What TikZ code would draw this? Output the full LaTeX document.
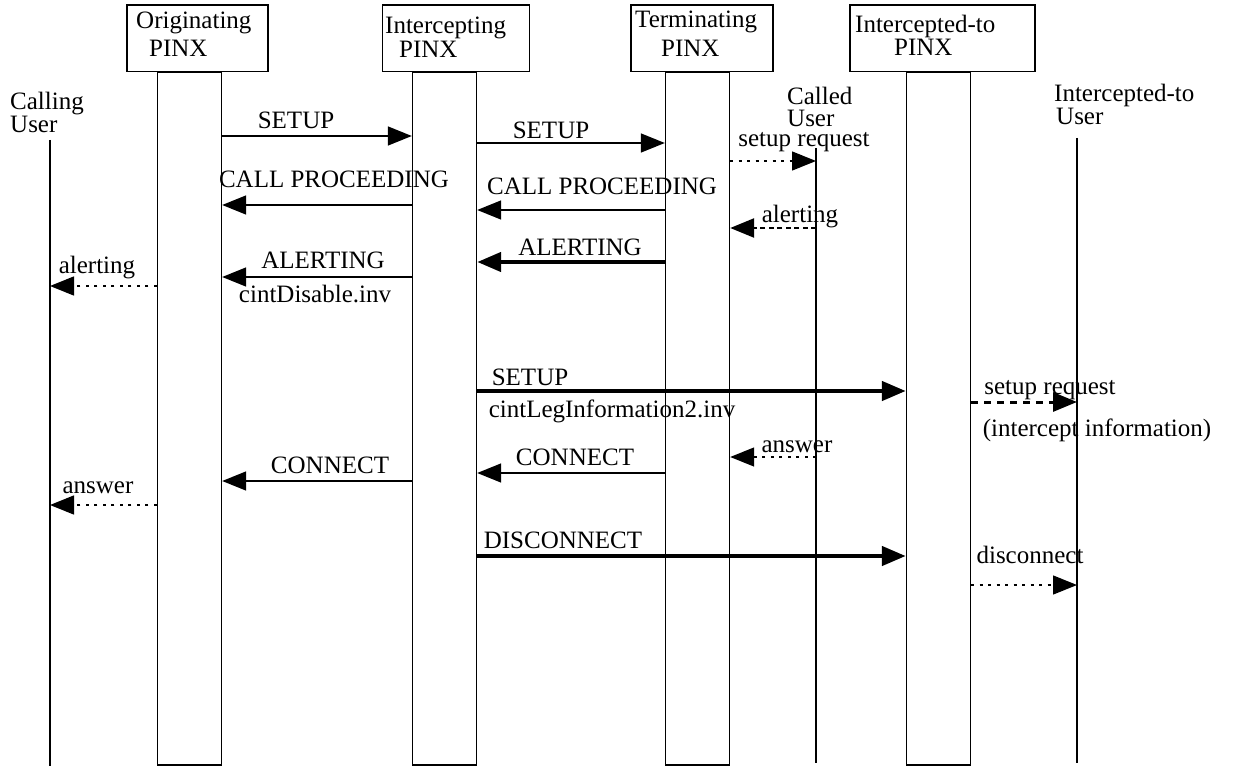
\documentclass[tikz,border=0pt]{standalone}
\usepackage{fontspec}
\setmainfont{Liberation Serif}
\usetikzlibrary{arrows.meta}
\begin{document}
\begin{tikzpicture}[x=1pt,y=-1pt,
  font=\fontsize{25}{24}\selectfont,
  txt/.style={inner sep=0pt, anchor=base west},
  lbl/.style={inner sep=0pt, anchor=base},
  two/.style={inner sep=0pt, align=left, anchor=south west, font=\fontsize{25}{22}\selectfont},
  hdr/.style={draw, line width=1.6pt, inner sep=0pt, minimum height=66.5pt},
  col/.style={draw, line width=1.4pt, inner sep=0pt, minimum width=64pt, minimum height=693pt},
  life/.style={line width=1.4pt},
  tip/.style={-{Triangle[length=24pt 0,width=19pt 0]}},
  msg/.style={tip, line width=1.6pt},
  bold/.style={tip, line width=4.5pt},
  dots/.style={tip, line width=1.4pt, dash pattern=on 3pt off 5.5pt},
  dash2/.style={tip, line width=2.5pt, dash pattern=on 5pt off 3.5pt},
  dash3/.style={tip, line width=3pt, dash pattern=on 7pt off 6pt}
]
\useasboundingbox (0,0) rectangle (1233,767);

% header boxes
\node[hdr, minimum width=140.5pt] (origbox) at (197.5,38.25) {};
\node[hdr, minimum width=147pt] (intbox) at (455.8,38.25) {};
\node[hdr, minimum width=142pt] (termbox) at (701.7,38.25) {};
\node[hdr, minimum width=185pt] (itbox) at (942.5,38.25) {};

\node[txt] (origt1) at (136,29) {Originating};
\node[txt] (origt2) at (149,57) {PINX};
\node[txt] (intt1) at (385,34) {Intercepting};
\node[txt] (intt2) at (399,58) {PINX};
\node[txt] (termt1) at (635,28) {Terminating};
\node[txt] (termt2) at (661,57) {PINX};
\node[txt] (itt1) at (855,33) {Intercepted-to};
\node[txt] (itt2) at (894,56) {PINX};

% columns
\node[col] (origcol) at (189.5,418.5) {};
\node[col] (intcol) at (444.5,418.5) {};
\node[col] (termcol) at (697.5,418.5) {};
\node[col] (itcol) at (938.5,418.5) {};

% users
\node[txt] (cu1) at (10,110) {Calling};
\node[txt] (cu2) at (10,133) {User};
\node[two] (du) at (787,127) {Called\\User};
\node[txt] (iu1) at (1054,102) {Intercepted-to};
\node[txt] (iu2) at (1056,125) {User};

\coordinate (cutop) at (50,140);
\coordinate (cubot) at (50,766);
\coordinate (dutop) at (816,148);
\coordinate (dubot) at (816,763);
\coordinate (iutop) at (1077,138);
\coordinate (iubot) at (1077,763);
\draw[life] (cutop) -- (cubot);
\draw[life] (dutop) -- (dubot);
\draw[life] (iutop) -- (iubot);

% messages
\draw[msg] (origcol.east |- 0,136) -- (intcol.west |- 0,136);
\node[lbl] (m1) at (296,129) {SETUP};

\draw[msg] (intcol.east |- 0,143) -- (termcol.west |- 0,143);
\node[lbl] (m2) at (551,139) {SETUP};

\draw[dots] (termcol.east |- 0,161) -- (dutop |- 0,161);
\node[lbl] (m3) at (804,147) {setup request};

\draw[msg] (intcol.west |- 0,205) -- (origcol.east |- 0,205);
\node[lbl] (m4) at (334,188) {CALL PROCEEDING};

\draw[msg] (termcol.west |- 0,210) -- (intcol.east |- 0,210);
\node[lbl] (m5) at (602,195) {CALL PROCEEDING};

\draw[dash2] (dutop |- 0,228) -- (termcol.east |- 0,228);
\node[lbl] (m6) at (800,223) {alerting};

\draw[bold] (termcol.west |- 0,262) -- (intcol.east |- 0,262);
\node[lbl] (m7) at (580,255) {ALERTING};

\draw[msg] (intcol.west |- 0,277) -- (origcol.east |- 0,277);
\node[lbl] (m8) at (323,268) {ALERTING};
\node[lbl] (m9) at (315,302) {cintDisable.inv};

\draw[dots] (origcol.west |- 0,286) -- (cutop |- 0,286);
\node[lbl] (m10) at (97,273) {alerting};

\draw[bold] (intcol.east |- 0,391) -- (itcol.west |- 0,391);
\node[lbl] (m11) at (530,385) {SETUP};
\node[lbl] (m12) at (612,417) {cintLegInformation2.inv};

\draw[dash3] (itcol.east |- 0,402) -- (iutop |- 0,402);
\node[lbl] (m13) at (1050,394) {setup request};
\node[lbl] (m14) at (1097,436) {(intercept information)};

\draw[dots] (dutop |- 0,457) -- (termcol.east |- 0,457);
\node[lbl] (m15) at (797,452) {answer};

\draw[msg] (termcol.west |- 0,473) -- (intcol.east |- 0,473);
\node[lbl] (m16) at (575,465) {CONNECT};

\draw[msg] (intcol.west |- 0,481) -- (origcol.east |- 0,481);
\node[lbl] (m17) at (330,473) {CONNECT};

\draw[dots] (origcol.west |- 0,505) -- (cutop |- 0,505);
\node[lbl] (m18) at (98,493) {answer};

\draw[bold] (intcol.east |- 0,556) -- (itcol.west |- 0,556);
\node[lbl] (m19) at (563,548) {DISCONNECT};

\draw[dots] (itcol.east |- 0,585) -- (iutop |- 0,585);
\node[lbl] (m20) at (1030,563) {disconnect};
\end{tikzpicture}
\end{document}
